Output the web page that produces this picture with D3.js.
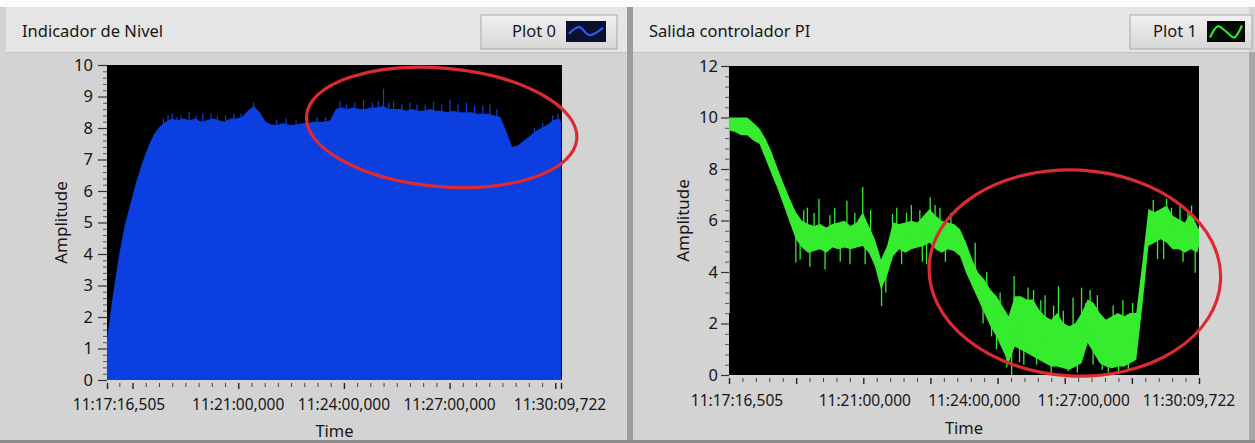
<!DOCTYPE html>
<html>
<head>
<meta charset="utf-8">
<script src="https://cdn.jsdelivr.net/npm/d3@7"></script>
<style>
  html, body { margin: 0; padding: 0; background: #ffffff; }
  svg { display: block; font-family: "Noto Sans", "DejaVu Sans", sans-serif; }
</style>
</head>
<body>
<svg id="chart" width="1255" height="443"></svg>
<script>
// ---- time axis (seconds elapsed since 11:17:16,505) ----
const timeSpan = 773.217;
const timeLabelSeconds = [0, 223.495, 403.495, 583.495, 773.217];
const timeLabels = ["11:17:16,505", "11:21:00,000", "11:24:00,000", "11:27:00,000", "11:30:09,722"];
const sampleStep = 10; // seconds between stored samples

// ---- Indicador de Nivel (tank level, Plot 0) ----
const levelValues = [
  1.3, 2.7, 3.9, 4.9, 5.6, 6.3, 6.9, 7.4, 7.8, 8.05,
  8.2, 8.3, 8.25, 8.3, 8.25, 8.3, 8.2, 8.25, 8.3, 8.25,
  8.2, 8.3, 8.3, 8.35, 8.55, 8.7, 8.5, 8.2, 8.1, 8.1,
  8.15, 8.1, 8.1, 8.15, 8.15, 8.2, 8.2, 8.2, 8.25, 8.6,
  8.65, 8.6, 8.65, 8.6, 8.6, 8.65, 8.65, 8.7, 8.6, 8.6,
  8.6, 8.55, 8.6, 8.55, 8.55, 8.6, 8.55, 8.55, 8.5, 8.55,
  8.5, 8.5, 8.5, 8.45, 8.45, 8.45, 8.4, 8.35, 7.9, 7.4,
  7.45, 7.6, 7.75, 7.9, 8.0, 8.1, 8.25, 8.3, 8.2
];
// narrow peaks on top of the level trace: [seconds, value]
const levelSpikes = [
  [96, 8.3], [104, 8.4], [111, 8.45], [119, 8.35], [126, 8.4], [140, 8.5],
  [152, 8.4], [163, 8.45], [177, 8.45], [188, 8.4], [202, 8.4], [216, 8.45],
  [228, 8.45], [250, 8.8], [289, 8.25], [305, 8.3], [322, 8.25], [340, 8.3],
  [358, 8.35], [372, 8.35], [397, 8.85], [408, 8.75], [422, 8.8], [437, 8.9],
  [452, 8.8], [462, 8.85], [471, 9.25], [480, 8.8], [488, 8.85], [502, 8.75],
  [516, 8.8], [528, 8.75], [542, 8.75], [556, 8.85], [570, 8.75], [584, 8.9],
  [598, 8.75], [612, 8.8], [626, 8.7], [640, 8.7], [652, 8.75], [664, 8.6],
  [728, 8.0], [742, 8.15], [759, 8.4], [768, 8.45]
];
const levelYTicks = [0, 1, 2, 3, 4, 5, 6, 7, 8, 9, 10];

// ---- Salida controlador PI (controller output, Plot 1) ----
const piHigh = [
  10.0, 10.0, 10.0, 10.0, 9.8, 9.57, 9.18, 8.66, 8.01, 7.42,
  6.84, 6.32, 5.99, 5.86, 5.79, 5.86, 5.73, 5.86, 5.92, 5.99,
  5.79, 5.92, 6.32, 5.79, 5.27, 4.49, 5.01, 5.92, 5.86, 5.92,
  5.99, 5.92, 6.18, 6.45, 6.18, 5.99, 5.92, 5.86, 5.66, 5.14,
  4.49, 3.97, 3.71, 3.32, 3.06, 2.67, 2.28, 3.06, 3.06, 2.93,
  2.93, 2.54, 2.28, 2.15, 2.41, 2.02, 1.89, 2.02, 2.41, 2.93,
  2.80, 2.41, 2.15, 2.28, 2.41, 2.28, 2.41, 2.41, 4.36, 6.45,
  6.32, 6.45, 6.58, 6.18, 6.05, 5.92, 6.32, 5.79, 5.66
];
const piLow = [
  9.5, 9.44, 9.31, 9.31, 9.11, 8.98, 8.40, 7.81, 7.23, 6.58,
  5.92, 5.27, 4.95, 4.75, 4.82, 4.88, 4.75, 4.95, 4.88, 4.95,
  4.88, 4.95, 5.01, 4.75, 4.23, 3.32, 3.84, 4.62, 4.88, 4.75,
  4.88, 4.95, 5.01, 5.14, 4.88, 4.75, 4.88, 4.82, 4.62, 3.97,
  3.45, 2.93, 2.41, 1.89, 1.50, 0.98, 0.46, 1.11, 0.98, 0.85,
  0.72, 0.59, 0.46, 0.33, 0.33, 0.26, 0.20, 0.33, 0.46, 1.24,
  0.85, 0.46, 0.33, 0.26, 0.33, 0.33, 0.46, 0.59, 2.67, 5.01,
  5.14, 5.27, 5.14, 4.88, 4.88, 4.75, 4.88, 4.75, 5.01
];
// narrow excursions outside the band: [seconds, value]
const piSpikes = [
  [0.5, 2.4], [93, 6.9], [110, 4.36], [117, 4.5], [123, 6.4], [129, 6.5],
  [133, 4.2], [140, 6.3], [148, 6.84], [158, 4.1], [166, 6.2], [174, 6.5],
  [183, 4.4], [194, 6.77], [199, 4.3], [207, 6.3], [220, 7.3], [224, 4.3],
  [233, 6.4], [251, 2.67], [258, 3.2], [269, 6.25], [276, 6.5], [284, 4.3],
  [292, 6.3], [300, 6.6], [314, 6.4], [318, 4.4], [325, 4.3], [331, 6.9],
  [339, 6.6], [347, 6.5], [356, 4.4], [365, 6.3], [405, 5.14], [418, 2.0],
  [424, 4.0], [432, 1.5], [440, 1.0], [446, 3.2], [457, 0.3], [465, 0.0],
  [469, 3.84], [478, 0.5], [485, 0.4], [492, 3.4], [501, 3.3], [506, 0.4],
  [513, 2.9], [520, 3.1], [530, 0.1], [534, 2.7], [542, 3.45], [550, 2.5],
  [558, 0.15], [566, 3.0], [573, 0.1], [580, 3.39], [587, 2.8], [594, 3.3],
  [599, 0.4], [606, 3.1], [614, 0.2], [624, 0.1], [632, 2.7], [641, 0.1],
  [648, 2.9], [657, 0.2], [664, 2.8], [698, 6.8], [705, 4.5], [715, 4.5],
  [720, 6.84], [728, 6.5], [742, 6.6], [747, 4.4], [755, 6.4], [761, 6.58],
  [767, 3.97]
];
const piYTicks = [0, 2, 4, 6, 8, 10, 12];

// ---- highlighted regions: centre and half-extent in data units ----
const levelMark = { t: 570, v: 8.02, dt: 231, dv: 1.88 };
const piMark = { t: 569, v: 3.96, dt: 240, dv: 4.0 };

// ---------------------------------------------------------------------
const svg = d3.select("#chart");
const defs = svg.append("defs");
const samples = (vals) => vals.map((v, i) => ({ t: Math.min(i * sampleStep, timeSpan), v }));
const ink = "#161616";
const fs = 15.5;

// window chrome
svg.append("rect").attr("x", 0).attr("y", 0).attr("width", 1255).attr("height", 443).attr("fill", "#d3d3d3");
svg.append("rect").attr("x", 0).attr("y", 0).attr("width", 1255).attr("height", 7).attr("fill", "#fbfbfb");

const panels = [
  {
    title: "Indicador de Nivel", legend: "Plot 0", left: 6, right: 627,
    plot: { l: 107, t: 65, r: 562, b: 380 }, xr: [107, 561],
    yMax: 10, yTicks: levelYTicks, yMinor: 0.2, tickMaj: 9, tickMin: 4, pad: 5,
    legendBox: [481, 617], icon: [566, 606], iconBg: "#0a1030", iconStroke: "#2b61ff",
    firstDx: 12, lastDx: -1, labelY: 410, timeY: 437
  },
  {
    title: "Salida controlador PI", legend: "Plot 1", left: 633, right: 1249,
    plot: { l: 729, t: 66, r: 1199, b: 375 }, xr: [729, 1199],
    yMax: 12, yTicks: piYTicks, yMinor: 0.4, tickMaj: 8, tickMin: 4, pad: 3,
    legendBox: [1130, 1252], icon: [1207, 1245], iconBg: "#020a02", iconStroke: "#36f030",
    firstDx: 8, lastDx: -10, labelY: 406, timeY: 434
  }
];

panels.forEach((p, idx) => {
  const g = svg.append("g");
  // title strip and graph frame
  g.append("rect").attr("x", p.left).attr("y", 7).attr("width", p.right - p.left).attr("height", 45).attr("fill", "#e5e5e5");
  g.append("rect").attr("x", p.left).attr("y", 52).attr("width", p.right - p.left).attr("height", 388).attr("fill", "#d3d3d3");
  g.append("line").attr("x1", p.left).attr("x2", p.right).attr("y1", 52.5).attr("y2", 52.5).attr("stroke", "#c2c2c2");

  g.append("text").attr("x", p.left + 16).attr("y", 37).attr("font-size", 16.5).attr("fill", ink).text(p.title);

  // legend button
  const lb = p.legendBox;
  const grad = defs.append("linearGradient").attr("id", "lg" + idx).attr("x1", 0).attr("x2", 0).attr("y1", 0).attr("y2", 1);
  grad.append("stop").attr("offset", 0).attr("stop-color", "#f1f1f1");
  grad.append("stop").attr("offset", 1).attr("stop-color", "#d6d6d6");
  g.append("rect").attr("x", lb[0]).attr("y", 15).attr("width", lb[1] - lb[0]).attr("height", 34)
    .attr("fill", "url(#lg" + idx + ")").attr("stroke", "#a9a9a9").attr("stroke-width", 1);
  g.append("text").attr("x", p.icon[0] - 10).attr("y", 37).attr("text-anchor", "end")
    .attr("font-size", 16.5).attr("fill", ink).text(p.legend);
  g.append("rect").attr("x", p.icon[0]).attr("y", 21).attr("width", p.icon[1] - p.icon[0]).attr("height", 21).attr("fill", p.iconBg);
  const ix = d3.scaleLinear().domain([0, 1]).range([p.icon[0] + 3, p.icon[1] - 3]);
  const iy = d3.scaleLinear().domain([0, 1]).range([39, 24]);
  const glyph = idx === 0
    ? [[0, 0.35], [0.3, 0.8], [0.6, 0.25], [1, 0.75]]
    : [[0, 0.1], [0.25, 0.85], [0.5, 0.5], [0.75, 0.1], [1, 0.9]];
  g.append("path").attr("d", d3.line().x(d => ix(d[0])).y(d => iy(d[1])).curve(d3.curveCatmullRom)(glyph))
    .attr("fill", "none").attr("stroke", p.iconStroke).attr("stroke-width", 2);

  // plot area
  const P = p.plot;
  g.append("rect").attr("x", P.l).attr("y", P.t).attr("width", P.r - P.l).attr("height", P.b - P.t).attr("fill", "#000");
  defs.append("clipPath").attr("id", "clip" + idx)
    .append("rect").attr("x", P.l).attr("y", P.t).attr("width", P.r - P.l).attr("height", P.b - P.t);

  p.x = d3.scaleLinear().domain([0, timeSpan]).range(p.xr);
  p.y = d3.scaleLinear().domain([0, p.yMax]).range([P.b, P.t]);
  p.g = g;

  // y axis: labelled majors plus minor dashes
  const yMinorVals = d3.range(0, p.yMax + 1e-9, p.yMinor).filter(v => !p.yTicks.some(t => Math.abs(t - v) < 1e-6));
  g.append("g").attr("transform", `translate(${P.l},0)`)
    .call(d3.axisLeft(p.y).tickValues(yMinorVals).tickSize(p.tickMin).tickFormat(""))
    .call(a => a.select(".domain").remove())
    .call(a => a.selectAll("line").attr("stroke", "#555"));
  g.append("g").attr("transform", `translate(${P.l},0)`)
    .call(d3.axisLeft(p.y).tickValues(p.yTicks).tickSize(p.tickMaj).tickPadding(p.pad).tickFormat(d3.format("d")))
    .call(a => a.select(".domain").remove())
    .call(a => a.selectAll("line").attr("stroke", "#333").attr("stroke-width", 1.2))
    .call(a => a.selectAll("text").attr("font-size", 16.5).attr("fill", ink).attr("font-family", "Noto Sans"));

  // time axis tick marks
  let minorT, majorT;
  if (idx === 0) {
    // 22.5 s divisions anchored on whole minutes, major every 3 minutes
    const firstMinute = 43.495;
    const ks = d3.range(-1, 33);
    minorT = ks.filter(k => k % 8 !== 0).map(k => firstMinute + k * 22.5);
    majorT = ks.filter(k => k % 8 === 0).map(k => firstMinute + k * 22.5).concat([0, timeSpan]);
  } else {
    const div = 35;
    minorT = d3.range(0, div + 1).filter(i => i % 5 !== 0).map(i => i * timeSpan / div);
    majorT = d3.range(0, div + 1).filter(i => i % 5 === 0).map(i => i * timeSpan / div);
  }
  const axY = P.b + 3;
  g.append("g").attr("transform", `translate(0,${axY})`)
    .call(d3.axisBottom(p.x).tickValues(minorT).tickSize(4).tickFormat(""))
    .call(a => a.select(".domain").remove())
    .call(a => a.selectAll("line").attr("stroke", "#444"));
  g.append("g").attr("transform", `translate(0,${axY})`)
    .call(d3.axisBottom(p.x).tickValues(majorT).tickSize(6).tickFormat(""))
    .call(a => a.select(".domain").remove())
    .call(a => a.selectAll("line").attr("stroke", "#222").attr("stroke-width", 1.4));

  // time labels
  g.selectAll("text.tl").data(timeLabelSeconds).join("text").attr("class", "tl")
    .attr("x", (d, i) => p.x(d) + (i === 0 ? p.firstDx : i === timeLabels.length - 1 ? p.lastDx : 0))
    .attr("y", p.labelY)
    .attr("text-anchor", "middle").attr("font-size", fs).attr("fill", ink)
    .text((d, i) => timeLabels[i]);

  g.append("text").attr("x", (P.l + P.r) / 2).attr("y", p.timeY).attr("text-anchor", "middle")
    .attr("font-size", 16.5).attr("fill", ink).text("Time");
  g.append("text").attr("transform", `translate(${P.l - 40},${(P.t + P.b) / 2}) rotate(-90)`)
    .attr("text-anchor", "middle").attr("font-size", 17).attr("fill", ink).text("Amplitude");
});

// ---- Plot 0: filled level trace ----
{
  const p = panels[0];
  const data = samples(levelValues);
  const layer = p.g.append("g").attr("clip-path", "url(#clip0)");
  layer.append("path").datum(data)
    .attr("d", d3.area().x(d => p.x(d.t)).y0(p.y(0)).y1(d => p.y(d.v)))
    .attr("fill", "#0c3fe0");
  layer.selectAll("line.sp").data(levelSpikes).join("line").attr("class", "sp")
    .attr("x1", d => p.x(d[0])).attr("x2", d => p.x(d[0]))
    .attr("y1", p.y(0)).attr("y2", d => p.y(d[1]))
    .attr("stroke", "#0c3fe0").attr("stroke-width", 1.2);
}

// ---- Plot 1: controller output band ----
{
  const p = panels[1];
  const data = piHigh.map((h, i) => ({ t: Math.min(i * sampleStep, timeSpan), hi: h, lo: piLow[i] }));
  const layer = p.g.append("g").attr("clip-path", "url(#clip1)");
  layer.append("path").datum(data)
    .attr("d", d3.area().x(d => p.x(d.t)).y0(d => p.y(d.lo)).y1(d => p.y(d.hi)))
    .attr("fill", "#36ec2e");
  const mid = (t) => {
    const i = Math.min(Math.floor(t / sampleStep), data.length - 2);
    const a = data[i], b = data[i + 1];
    const f = (t - a.t) / (b.t - a.t);
    return ((a.hi + a.lo) / 2) * (1 - f) + ((b.hi + b.lo) / 2) * f;
  };
  layer.selectAll("line.sp").data(piSpikes).join("line").attr("class", "sp")
    .attr("x1", d => p.x(d[0])).attr("x2", d => p.x(d[0]))
    .attr("y1", d => p.y(mid(d[0]))).attr("y2", d => p.y(d[1]))
    .attr("stroke", "#36ec2e").attr("stroke-width", 1.3);
}

// ---- red highlight ellipses ----
[[panels[0], levelMark, 5], [panels[1], piMark, 3]].forEach(([p, m, rot]) => {
  const cx = p.x(m.t), cy = p.y(m.v);
  const rx = p.x(m.t + m.dt) - cx, ry = cy - p.y(m.v + m.dv);
  svg.append("ellipse").attr("cx", cx).attr("cy", cy).attr("rx", rx).attr("ry", ry)
    .attr("transform", `rotate(${rot},${cx},${cy})`)
    .attr("fill", "none").attr("stroke", "#dc2a32").attr("stroke-width", 3.2);
});

// panel separators
svg.append("rect").attr("x", 627).attr("y", 7).attr("width", 6).attr("height", 436).attr("fill", "#9c9c9c");
svg.append("rect").attr("x", 1249).attr("y", 52).attr("width", 6).attr("height", 391).attr("fill", "#a8a8a8");
svg.append("rect").attr("x", 0).attr("y", 440).attr("width", 1255).attr("height", 3).attr("fill", "#8c8c8c");
</script>
</body>
</html>
